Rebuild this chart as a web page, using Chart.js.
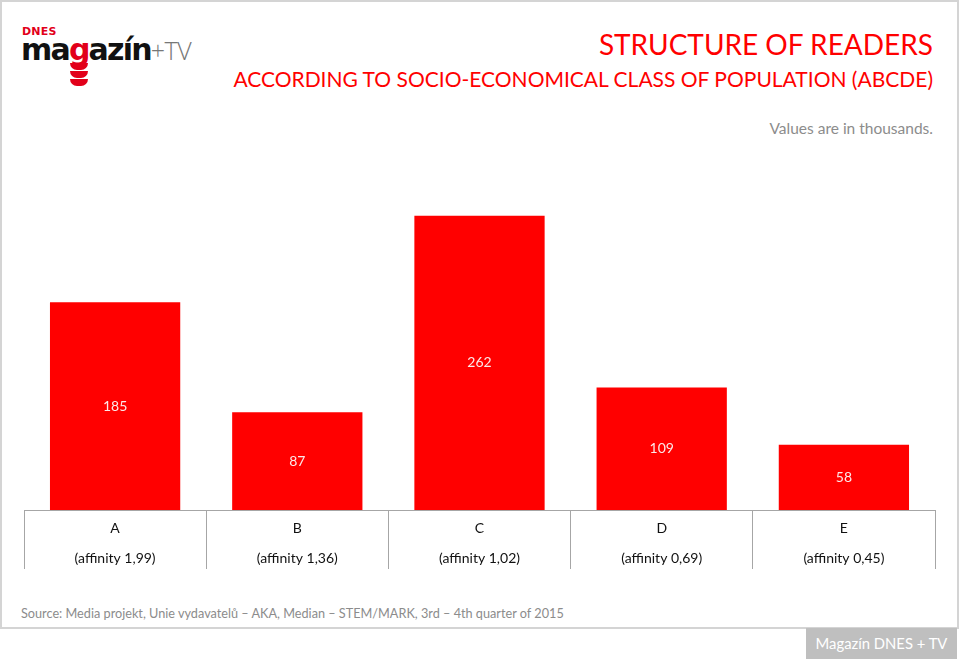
<!DOCTYPE html>
<html>
<head>
<meta charset="utf-8">
<script src="https://cdn.jsdelivr.net/npm/chart.js@4"></script>
<style>
  html, body { margin: 0; padding: 0; background: #fff; }
  body { width: 960px; height: 662px; position: relative; overflow: hidden; font-family: Lato, "Open Sans", sans-serif; }
  .frame { position: absolute; left: 0; top: 0; width: 955px; height: 625px; border: 2px solid #d4d4d4; }
  .logo { position: absolute; left: 22px; top: 22px; }
  .logo .dnes { position: absolute; left: 0; top: 3px; color: #e2001a; font: 900 11px "DejaVu Sans", sans-serif; letter-spacing: 0.2px; }
  .logo .mag { position: absolute; left: -1px; top: 10px; font: 900 30px "DejaVu Sans", sans-serif; letter-spacing: -1.8px; color: #111; white-space: nowrap; }
  .logo .mag .g { color: #e2001a; }
  .logo .tv { font-weight: 300; color: #777; font-family: "Open Sans", sans-serif; letter-spacing: -0.5px; font-size: 25px; }
  .chev { position: absolute; width: 18px; height: 7px; background: #e2001a; border-radius: 0 0 9px 9px; }
  .title { position: absolute; right: 27px; top: 27px; color: #ff0000; font-size: 28px; text-align: right; white-space: nowrap; }
  .subtitle { position: absolute; right: 27px; top: 66px; color: #ff0000; font-size: 21px; text-align: right; white-space: nowrap; }
  .note { position: absolute; right: 27px; top: 119px; color: #8c8c8c; font-size: 15.5px; text-align: right; white-space: nowrap; }
  .source { position: absolute; left: 21px; top: 605px; color: #8c8c8c; font-size: 12.7px; white-space: nowrap; }
  .badge { position: absolute; left: 806px; top: 628px; width: 151px; height: 31px; background: #bfbfbf; color: #fff; font-size: 14.8px; line-height: 31px; text-align: center; }
  #wrap { position: absolute; left: 0; top: 140px; width: 960px; height: 440px; }
</style>
</head>
<body>
<div class="frame"></div>
<div class="logo">
  <div class="dnes">DNES</div>
  <div class="mag">ma<span class="g">g</span>azín<span class="tv">+TV</span></div>
  <div class="chev" style="left:48px; top:41px;"></div>
  <div class="chev" style="left:48px; top:49px;"></div>
  <div class="chev" style="left:48px; top:57px;"></div>
</div>
<div class="title">STRUCTURE OF READERS</div>
<div class="subtitle">ACCORDING TO SOCIO-ECONOMICAL CLASS OF POPULATION (ABCDE)</div>
<div class="note">Values are in thousands.</div>
<div id="wrap"><canvas id="chart"></canvas></div>
<div class="source">Source: Media projekt, Unie vydavatelů – AKA, Median – STEM/MARK, 3rd – 4th quarter of 2015</div>
<div class="badge">Magazín DNES + TV</div>

<script>
const classes = ['A', 'B', 'C', 'D', 'E'];
const affinity = ['1,99', '1,36', '1,02', '0,69', '0,45'];
const readers = [185, 87, 262, 109, 58];
const yMax = 300;

// popisky hodnot doprostřed sloupců
const valueLabels = {
    id: 'valueLabels',
    afterDatasetsDraw(chart) {
        const ctx = chart.ctx;
        const meta = chart.getDatasetMeta(0);
        ctx.save();
        ctx.fillStyle = '#fde8e8';
        ctx.font = '14px Lato, "Open Sans", sans-serif';
        ctx.textAlign = 'center';
        ctx.textBaseline = 'middle';
        meta.data.forEach((bar, i) => {
            ctx.fillText(String(readers[i]), bar.x, (bar.y + bar.base) / 2);
        });
        ctx.restore();
    }
};

const ctx = document.getElementById('chart').getContext('2d');
new Chart(ctx, {
    type: 'bar',
    data: {
        labels: classes.map((c, i) => [c, '(affinity ' + affinity[i] + ')']),
        datasets: [{
            data: readers,
            backgroundColor: '#ff0000',
            categoryPercentage: 1,
            barPercentage: 0.715
        }]
    },
    options: {
        responsive: true,
        maintainAspectRatio: false,
        animation: false,
        layout: { padding: { left: 24, right: 25, top: 33, bottom: 10 } },
        plugins: {
            legend: { display: false },
            tooltip: { enabled: false }
        },
        scales: {
            x: {
                grid: {
                    offset: true,
                    drawOnChartArea: false,
                    tickLength: 59,
                    color: '#a6a6a6',
                    lineWidth: 1
                },
                border: { display: true, color: '#a6a6a6', width: 1 },
                ticks: {
                    color: '#111',
                    padding: -56,
                    maxRotation: 0,
                    font: { family: 'Lato, "Open Sans", sans-serif', size: 14, lineHeight: 30 / 14 }
                },
                afterFit: function (scale) { scale.height = 60; }
            },
            y: {
                display: false,
                min: 0,
                max: yMax
            }
        }
    },
    plugins: [valueLabels]
});
</script>
</body>
</html>
